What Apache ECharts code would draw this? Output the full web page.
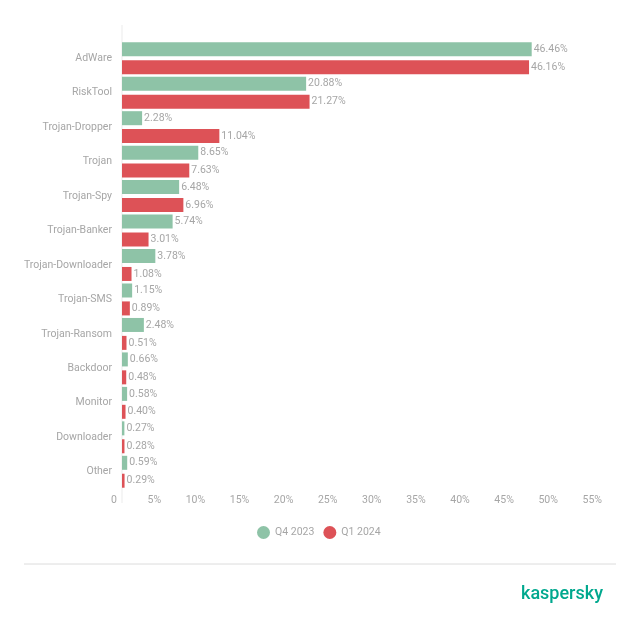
<!DOCTYPE html>
<html>
<head>
<meta charset="utf-8">
<script src="https://cdn.jsdelivr.net/npm/echarts@6/dist/echarts.min.js"></script>
<style>
  html, body { margin: 0; padding: 0; background: #fff; }
  #chart { width: 640px; height: 630px; }
</style>
</head>
<body>
<div id="chart"></div>
<script>
const categories = ["AdWare", "RiskTool", "Trojan-Dropper", "Trojan", "Trojan-Spy", "Trojan-Banker",
  "Trojan-Downloader", "Trojan-SMS", "Trojan-Ransom", "Backdoor", "Monitor", "Downloader", "Other"];
const q4_2023 = [46.46, 20.88, 2.28, 8.65, 6.48, 5.74, 3.78, 1.15, 2.48, 0.66, 0.58, 0.27, 0.59];
const q1_2024 = [46.16, 21.27, 11.04, 7.63, 6.96, 3.01, 1.08, 0.89, 0.51, 0.48, 0.40, 0.28, 0.29];
const seriesNames = ["Q4 2023", "Q1 2024"];

const textGrey = "#a6a6a6";
const font = "Roboto, sans-serif";
const fs = 10.5;

let myChart = echarts.init(document.getElementById("chart"));

const valueLabel = {
  show: true,
  position: "right",
  distance: 2,
  color: textGrey,
  fontSize: fs,
  fontFamily: font,
  formatter: p => p.value.toFixed(2) + "%"
};

let option = {
  backgroundColor: "#fff",
  animation: false,
  color: ["#8ec3a7", "#dd5257"],
  grid: {
    left: 122,
    right: 33,
    top: 41,
    bottom: 141
  },
  legend: {
    data: seriesNames,
    left: 252,
    top: 521,
    icon: "circle",
    itemWidth: 13,
    itemHeight: 13,
    itemGap: 9,
    textStyle: { color: textGrey, fontSize: fs, fontFamily: font }
  },
  xAxis: {
    type: "value",
    min: 0,
    max: 55,
    interval: 5,
    axisLine: { show: false },
    axisTick: { show: false },
    splitLine: { show: false },
    axisLabel: {
      color: textGrey,
      fontSize: fs,
      fontFamily: font,
      align: "right",
      padding: [0, 5, 0, 0],
      margin: 6,
      formatter: v => (v === 0 ? "0" : v + "%")
    }
  },
  yAxis: {
    type: "category",
    data: categories,
    inverse: true,
    axisLine: { show: false },
    axisTick: { show: false },
    axisLabel: {
      color: textGrey,
      fontSize: fs,
      fontFamily: font,
      margin: 10,
      padding: [2, 0, 0, 0]
    }
  },
  graphic: [
    {
      type: "line",
      shape: { x1: 122, y1: 25, x2: 122, y2: 503 },
      style: { stroke: "#ebebeb", lineWidth: 1 }
    },
    {
      type: "line",
      shape: { x1: 24, y1: 564, x2: 616, y2: 564 },
      style: { stroke: "#dcdcdc", lineWidth: 1 }
    },
    {
      type: "text",
      left: 521,
      top: 585,
      style: {
        text: "kaspersky",
        fill: "#00a88e",
        font: "500 18px Roboto, sans-serif"
      }
    }
  ],
  series: [
    {
      name: seriesNames[0],
      type: "bar",
      data: q4_2023,
      barWidth: 14,
      barGap: "28%",
      label: valueLabel
    },
    {
      name: seriesNames[1],
      type: "bar",
      data: q1_2024,
      barWidth: 14,
      barGap: "28%",
      label: valueLabel
    }
  ]
};
myChart.setOption(option);
</script>
</body>
</html>
